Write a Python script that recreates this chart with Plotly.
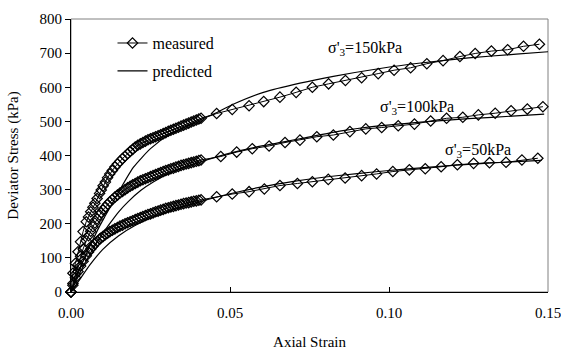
import plotly.graph_objects as go

# ---- data ----
dense_strain = [0, 0.0006, 0.0014, 0.0022, 0.003, 0.0038, 0.0048, 0.0055, 0.0062, 0.0069, 0.0075,
                0.0082, 0.009, 0.0095, 0.0101, 0.0108, 0.0115, 0.0122, 0.013, 0.0138, 0.0146, 0.0154,
                0.0162, 0.017, 0.0178, 0.0186, 0.0194, 0.0202, 0.021, 0.0218, 0.0226, 0.0234, 0.0242,
                0.025, 0.0258, 0.0266, 0.0274, 0.0282, 0.029, 0.0298, 0.0306, 0.0314, 0.0322, 0.033,
                0.0338, 0.0346, 0.0354, 0.0362, 0.037, 0.0378, 0.0386, 0.0394, 0.0402, 0.0409]

m150_dense = [0, 55, 84, 118, 147, 177, 206, 220, 235, 248, 260, 274, 289, 299, 311, 322, 335, 346,
              356, 366, 375, 383, 391, 398, 405, 412, 418, 425, 430, 434, 438, 442, 446, 449, 452,
              455, 458, 461, 464, 467, 471, 474, 477, 480, 483, 486, 489, 492, 495, 498, 501, 504,
              507, 509]
m100_dense = [0, 25, 52, 80, 105, 126, 150, 165, 178, 191, 202, 214, 226, 233, 241, 249, 257, 264,
              271, 278, 284, 290, 295, 300, 305, 310, 314, 318, 322, 326, 329, 332, 335, 338, 341,
              344, 347, 350, 353, 356, 358, 361, 363, 366, 368, 371, 373, 375, 377, 379, 381, 383,
              385, 387]
m50_dense = [0, 20, 42, 60, 76, 90, 106, 117, 126, 134, 141, 148, 155, 159, 163, 168, 172, 177,
             181, 185, 189, 193, 196, 200, 203, 206, 209, 212, 215, 218, 221, 224, 227, 229, 232,
             235, 237, 240, 242, 245, 247, 249, 251, 253, 255, 257, 259, 261, 262, 264, 266, 267,
             269, 270]

m150_sparse_x = [0.0458, 0.0507, 0.0560, 0.0606, 0.0657, 0.0708, 0.0759, 0.0810, 0.0863, 0.0914,
                 0.0966, 0.1016, 0.1068, 0.1119, 0.1170, 0.1223, 0.1271, 0.1322, 0.1373, 0.1423, 0.1473]
m150_sparse_y = [523, 535, 546, 558, 571, 585, 600, 610, 620, 628, 640, 650, 657, 669, 678, 690,
                 699, 706, 710, 720, 726]
m100_sparse_x = [0.0471, 0.0521, 0.0570, 0.0623, 0.0673, 0.0720, 0.0773, 0.0825, 0.0877, 0.0927,
                 0.0977, 0.1029, 0.1080, 0.1131, 0.1181, 0.1232, 0.1281, 0.1334, 0.1384, 0.1435, 0.1484]
m100_sparse_y = [397, 410, 420, 428, 438, 445, 455, 460, 470, 478, 482, 487, 492, 501, 509, 512,
                 519, 524, 531, 536, 543]
m50_sparse_x = [0.0458, 0.0507, 0.0560, 0.0608, 0.0657, 0.0712, 0.0759, 0.0809, 0.0862, 0.0914,
                0.0961, 0.1012, 0.1064, 0.1114, 0.1164, 0.1215, 0.1266, 0.1316, 0.1368, 0.1418, 0.1468]
m50_sparse_y = [279, 287, 294, 302, 312, 318, 323, 330, 334, 341, 346, 353, 358, 361, 367, 373,
                377, 379, 380, 387, 392]

p150_x = [0, 0.002, 0.004, 0.007, 0.009, 0.0107, 0.0133, 0.0154, 0.0196, 0.025, 0.031, 0.0395,
          0.045, 0.051, 0.0605, 0.072, 0.0825, 0.0972, 0.110, 0.125, 0.140, 0.150]
p150_y = [0, 50, 95, 155, 193, 222, 265, 300, 365, 420, 462, 500, 522, 550, 585, 612, 632, 655,
          671, 686, 697, 704]
p100_x = [0, 0.003, 0.006, 0.009, 0.012, 0.015, 0.018, 0.022, 0.026, 0.031, 0.036, 0.0416, 0.050,
          0.060, 0.072, 0.085, 0.094, 0.110, 0.125, 0.140, 0.1488]
p100_y = [0, 60, 112, 158, 198, 235, 265, 298, 323, 348, 367, 384, 407, 428, 449, 472, 484, 498,
          508, 516, 521]
p50_x = [0, 0.003, 0.006, 0.010, 0.015, 0.020, 0.025, 0.030, 0.035, 0.041, 0.050, 0.060, 0.070,
         0.080, 0.090, 0.100, 0.110, 0.120, 0.130, 0.140, 0.148]
p50_y = [0, 40, 80, 125, 165, 194, 216, 234, 250, 266, 288, 308, 324, 337, 347, 356, 364, 371,
         377, 382, 386]

labels = ["σ'<sub>3</sub>=150kPa", "σ'<sub>3</sub>=100kPa", "σ'<sub>3</sub>=50kPa"]
label_x = [0.0923, 0.1089, 0.1280]
label_y = [715, 542, 414]

FONT = "Liberation Serif"

fig = go.Figure()

measured = [(dense_strain + m150_sparse_x, m150_dense + m150_sparse_y),
            (dense_strain + m100_sparse_x, m100_dense + m100_sparse_y),
            (dense_strain + m50_sparse_x, m50_dense + m50_sparse_y)]
predicted = [(p150_x, p150_y), (p100_x, p100_y), (p50_x, p50_y)]

for i, (px, py) in enumerate(predicted):
    fig.add_trace(go.Scatter(x=px, y=py, mode="lines",
                             line=dict(color="black", width=1.2, shape="spline", smoothing=0.6),
                             name="predicted", legendgroup="p", showlegend=(i == 0), legendrank=2,
                             cliponaxis=False))
for i, (mx, my) in enumerate(measured):
    fig.add_trace(go.Scatter(x=mx, y=my, mode="lines+markers",
                             line=dict(color="black", width=1),
                             marker=dict(symbol="diamond-open", size=8, color="black", line=dict(width=1.2)),
                             name="measured", legendgroup="m", showlegend=(i == 0), legendrank=1,
                             cliponaxis=False))

for t, x, y in zip(labels, label_x, label_y):
    fig.add_annotation(x=x, y=y, text=t, showarrow=False, font=dict(family=FONT, size=16, color="black"))

fig.add_shape(type="rect", xref="paper", yref="paper", x0=0, y0=0, x1=1, y1=1,
              line=dict(color="#808080", width=1), layer="below")

fig.update_layout(
    width=561, height=352,
    margin=dict(l=71, r=13, t=19, b=60),
    paper_bgcolor="white", plot_bgcolor="white",
    font=dict(family=FONT, size=15, color="black"),
    legend=dict(x=0.087, y=0.974, xanchor="left", yanchor="top", bgcolor="rgba(0,0,0,0)",
                font=dict(family=FONT, size=16), tracegroupgap=4, itemwidth=30),
    xaxis=dict(range=[0, 0.15], dtick=0.05, tickformat=".2f", showgrid=False, zeroline=False,
               showline=True, linecolor="black", linewidth=1, ticks="inside", ticklen=5,
               tickcolor="black", tickfont=dict(family=FONT, size=15), automargin=False,
               ticklabeloverflow="allow", ticklabelstandoff=7,
               title=dict(text="Axial Strain", font=dict(family=FONT, size=15), standoff=16)),
    yaxis=dict(range=[0, 800], dtick=100, showgrid=False, zeroline=False,
               showline=True, linecolor="black", linewidth=1, ticks="outside", ticklen=5,
               tickcolor="black", tickfont=dict(family=FONT, size=15), automargin=False,
               title=dict(text="Deviator Stress (kPa)", font=dict(family=FONT, size=15), standoff=17)),
)

fig.write_html("out.html", config={"displayModeBar": False},
               post_script="document.body.style.margin='0';")
